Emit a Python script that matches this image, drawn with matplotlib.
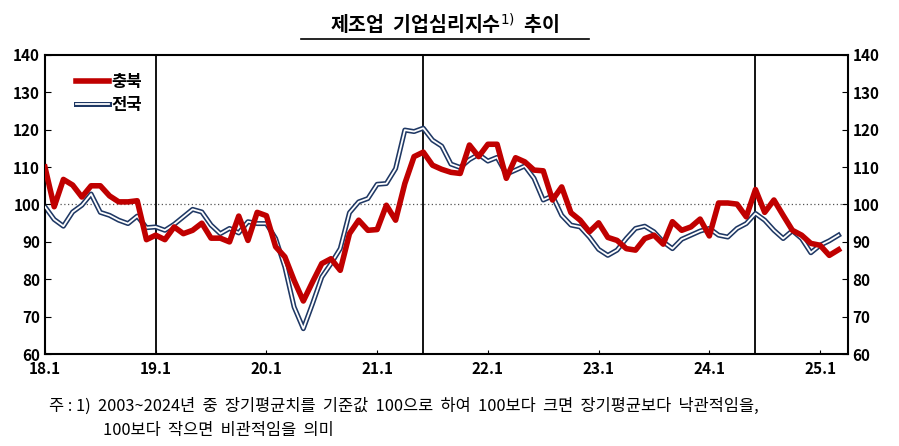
import matplotlib
matplotlib.use("Agg")
import matplotlib.pyplot as plt
import matplotlib.patheffects as pe
from matplotlib.lines import Line2D

plt.rcParams["font.family"] = "Noto Sans CJK KR"

chungbuk = [110, 99.4, 106.7, 105.2, 102, 105, 105, 102.3, 100.7, 100.7, 101, 90.6,
            91.8, 90.6, 94, 92.2, 93.1, 95, 91, 91, 90, 96.9, 90.4, 97.9,
            97, 88.7, 86, 79.7, 74.2, 79.3, 84.2, 85.5, 82.4, 92.2, 95.8, 93.1,
            93.3, 99.8, 95.8, 105.6, 112.8, 114, 110.5, 109.4, 108.6, 108.3, 115.9, 112.8,
            116.1, 116.1, 107, 112.5, 111.4, 109.2, 109, 101.2, 104.7, 97.8, 95.8, 92.7,
            95.1, 91.2, 90.4, 88.2, 87.8, 90.9, 91.8, 89.4, 95.4, 93.1, 94, 96.1,
            91.6, 100.4, 100.4, 100.1, 96.7, 104, 97.9, 101.2, 97.1, 93.1, 91.8, 89.6,
            89.1, 86.4, 87.9]
national = [99.4, 96, 94.2, 98, 99.8, 102.8, 97.9, 97.1, 95.8, 94.9, 96.9, 93.8,
            94, 93.1, 94.7, 96.7, 98.7, 98, 94.5, 92.2, 93.6, 92.4, 95.4, 94.9,
            94.9, 90.9, 83.3, 72.6, 66.8, 73.5, 80.6, 84.2, 88.2, 97.8, 100.7, 101.6,
            105.4, 105.6, 109.6, 119.9, 119.5, 120.4, 117.2, 115.6, 110.8, 109.9, 112, 113.4,
            111.6, 112.6, 108.1, 109.2, 110.3, 107, 101.2, 102.3, 97.1, 94.5, 94, 91.3,
            88, 86.4, 87.8, 90.9, 93.6, 94.2, 92.7, 90, 88.2, 90.7, 91.8, 92.9,
            93.6, 91.8, 91.3, 93.6, 94.9, 97.6, 95.8, 93.1, 90.9, 93, 90.9, 87.1,
            89.1, 90.3, 91.8]
tick_labels = ["18.1", "19.1", "20.1", "21.1", "22.1", "23.1", "24.1", "25.1"]
tick_pos = [0, 12, 24, 36, 48, 60, 72, 84]
vlines = [12, 41, 77]

fig = plt.figure(figsize=(8.99, 4.46), dpi=100)
ax = fig.add_axes([0.05, 0.206, 0.893, 0.671])
x = list(range(len(chungbuk)))

ax.axhline(100, color="#555555", lw=0.9, ls=(0, (1, 2)), zorder=1)
for v in vlines:
    ax.axvline(v, color="black", lw=1.3, zorder=1)

ax.plot(x, national, color="#1f3864", lw=3.6, zorder=2)
ax.plot(x, national, color="white", lw=1.3, zorder=3)
ax.plot(x, chungbuk, color="#c00000", lw=4, zorder=4)

ax.set_xlim(0, 87)
ax.set_ylim(60, 140)
ax.set_yticks(range(60, 141, 10))
ax.set_xticks(tick_pos)
ax.set_xticklabels(tick_labels, fontweight="bold", fontsize=11)
ax.tick_params(axis="x", direction="in", length=3, pad=5)
ax.tick_params(axis="y", direction="in", length=4, labelsize=11, right=True, labelright=True)
for lab in ax.get_yticklabels():
    lab.set_fontweight("bold")
for s in ax.spines.values():
    s.set_linewidth(1.5)

h1 = Line2D([], [], color="#c00000", lw=4)
h2 = Line2D([], [], color="#1f3864", lw=3.6)
h2w = Line2D([], [], color="white", lw=1.3)
leg = ax.legend([h1, (h2, h2w)], ["충북", "전국"], loc="upper left", frameon=False,
                handlelength=2.0, handletextpad=0.1, fontsize=12,
                bbox_to_anchor=(0.02, 0.99), labelspacing=0.3)
for t in leg.get_texts():
    t.set_fontweight("bold")

fig.text(0.495, 0.945, "제조업  기업심리지수$^{1)}$  추이", ha="center", va="center",
         fontsize=14, fontweight="bold")
fig.add_artist(Line2D([0.335, 0.655], [0.912, 0.912], color="black", lw=1.2))
fig.text(0.055, 0.09, "주 : 1)  2003~2024년  중  장기평균치를  기준값  100으로  하여  100보다  크면  장기평균보다  낙관적임을,",
         fontsize=11.8, va="center")
fig.text(0.115, 0.035, "100보다  작으면  비관적임을  의미", fontsize=11.8, va="center")

fig.savefig("out.png", dpi=100)
